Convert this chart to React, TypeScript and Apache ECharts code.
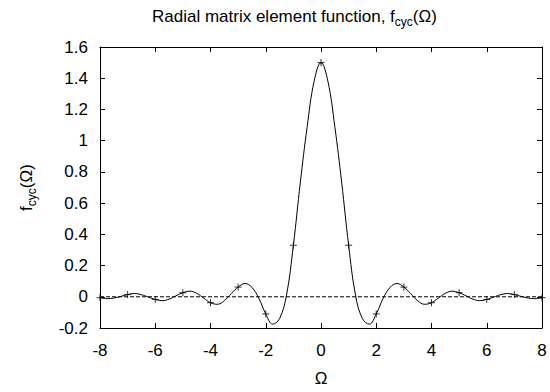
import React, { useEffect, useRef } from "react";
import * as echarts from "echarts";

const curveX = [
  -8, -7.75, -7.5, -7.25, -7, -6.75, -6.5, -6.25, -6, -5.75, -5.5, -5.25, -5,
  -4.75, -4.5, -4.25, -4, -3.75, -3.5, -3.25, -3, -2.75, -2.5, -2.25, -2, -1.75,
  -1.5, -1.25, -1, -0.75, -0.5, -0.25, 0, 0.25, 0.5, 0.75, 1, 1.25, 1.5, 1.75,
  2, 2.25, 2.5, 2.75, 3, 3.25, 3.5, 3.75, 4, 4.25, 4.5, 4.75, 5, 5.25, 5.5,
  5.75, 6, 6.25, 6.5, 6.75, 7, 7.25, 7.5, 7.75, 8,
];
const curveY = [
  -0.006, -0.012, -0.008, 0.002, 0.014, 0.021, 0.013, -0.002, -0.017, -0.025,
  -0.015, 0.006, 0.026, 0.036, 0.022, -0.008, -0.038, -0.048, -0.025, 0.02,
  0.062, 0.085, 0.06, -0.01, -0.11, -0.175, -0.14, 0.01, 0.33, 0.73, 1.09,
  1.38, 1.5, 1.38, 1.09, 0.73, 0.33, 0.01, -0.14, -0.175, -0.11, -0.01, 0.06,
  0.085, 0.062, 0.02, -0.025, -0.048, -0.038, -0.008, 0.022, 0.036, 0.026,
  0.006, -0.015, -0.025, -0.017, -0.002, 0.013, 0.021, 0.014, 0.002, -0.008,
  -0.012, -0.006,
];

// Sample points marked with "+"
const pointX = [-8, -7, -6, -5, -4, -3, -2, -1, 0, 1, 2, 3, 4, 5, 6, 7, 8];
const pointY = [
  -0.006, 0.014, -0.017, 0.026, -0.038, 0.062, -0.11, 0.33, 1.5, 0.33, -0.11,
  0.062, -0.038, 0.026, -0.017, 0.014, -0.006,
];

// Zero reference line
const zeroX = [-8, 8];
const zeroY = [0, 0];

const FONT = "'Liberation Sans', Arial, sans-serif";
const FS = 17;

const richStyles = {
  n: { fontSize: FS, fontFamily: FONT, fontWeight: "normal", color: "#000", lineHeight: 24, verticalAlign: "top" },
  s: { fontSize: 12, fontFamily: FONT, fontWeight: "normal", color: "#000", lineHeight: 24, verticalAlign: "top", padding: [8, 0, 0, 0] },
};

export default function App() {
  const ref = useRef<HTMLDivElement>(null);
  useEffect(() => {
    if (!ref.current) return;
    const chart = echarts.init(ref.current, null, { renderer: "svg" });
    const xCommon = {
      type: "value" as const,
      min: -8,
      max: 8,
      interval: 2,
      axisLine: { show: true, onZero: false, lineStyle: { color: "#000", width: 1 } },
      axisTick: { show: true, inside: true, length: 5, lineStyle: { color: "#000" } },
      splitLine: { show: false },
    };
    const yCommon = {
      type: "value" as const,
      min: -0.2,
      max: 1.6,
      interval: 0.2,
      axisLine: { show: true, onZero: false, lineStyle: { color: "#000", width: 1 } },
      axisTick: { show: true, inside: true, length: 5, lineStyle: { color: "#000" } },
      splitLine: { show: false },
    };
    chart.setOption({
      animation: false,
      backgroundColor: "#fff",
      textStyle: { fontFamily: FONT },
      title: {
        text: "{n|Radial matrix element function, f}{s|cyc}{n|(Ω)}",
        left: 152,
        top: 8,
        padding: 0,
        textStyle: { fontWeight: "normal", rich: richStyles },
      },
      grid: { left: 100, right: 8, top: 47, bottom: 58, containLabel: false },
      xAxis: [
        {
          ...xCommon,
          position: "bottom",
          axisLabel: { color: "#000", fontSize: FS, fontFamily: FONT, margin: 14 },
          name: "Ω",
          nameLocation: "middle",
          nameGap: 42,
          nameTextStyle: { color: "#000", fontSize: FS, fontFamily: FONT },
        },
        { ...xCommon, position: "top", axisLabel: { show: false } },
      ],
      yAxis: [
        {
          ...yCommon,
          position: "left",
          axisLabel: {
            color: "#000",
            fontSize: FS,
            fontFamily: FONT,
            margin: 12,
            formatter: (v: number) => String(Math.round(v * 10) / 10),
          },
          name: "{n|f}{s|cyc}{n|(Ω)}",
          nameLocation: "middle",
          nameGap: 58,
          nameRotate: 90,
          nameTextStyle: { rich: richStyles },
        },
        { ...yCommon, position: "right", axisLabel: { show: false } },
      ],
      series: [
        {
          type: "line",
          data: zeroX.map((x, i) => [x, zeroY[i]]),
          symbol: "none",
          silent: true,
          lineStyle: { color: "#000", width: 1, type: [4, 2] },
        },
        {
          type: "line",
          data: curveX.map((x, i) => [x, curveY[i]]),
          symbol: "none",
          smooth: 0.4,
          lineStyle: { color: "#000", width: 1 },
        },
        {
          type: "scatter",
          data: pointX.map((x, i) => [x, pointY[i]]),
          symbol: "path://M0,5L10,5M5,0L5,10",
          symbolSize: 7,
          itemStyle: { color: "rgba(0,0,0,0)", borderColor: "#000", borderWidth: 1 },
          z: 5,
        },
      ],
    });
    return () => chart.dispose();
  }, []);
  return (
    <div
      ref={ref}
      style={{ position: "fixed", left: 0, top: 0, width: 550, height: 392 }}
    />
  );
}
